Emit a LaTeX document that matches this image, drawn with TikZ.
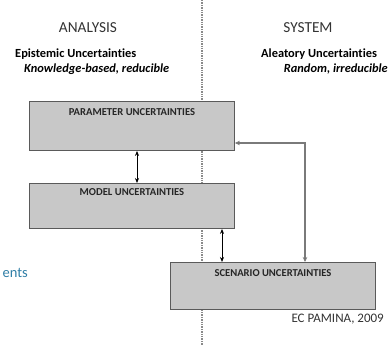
\documentclass[tikz,border=0pt]{standalone}
\usepackage{fontspec}
\setmainfont{Carlito}[RawFeature={-liga}]
\usetikzlibrary{arrows.meta}
\definecolor{boxfill}{HTML}{C8C8C8}
\definecolor{boxline}{HTML}{5A5A5A}
\definecolor{linkgray}{HTML}{7A7A7A}
\definecolor{divider}{HTML}{8A8A8A}
\definecolor{tealtext}{HTML}{2F7EA6}
\tikzset{
  ubox/.style={draw=boxline, line width=0.9pt, fill=boxfill, inner sep=0pt, anchor=north west},
  boxtitle/.style={anchor=north, font=\bfseries\fontsize{10.6}{12}\selectfont, text=black!85, inner sep=0pt},
  heading/.style={font=\fontsize{15.3}{17}\selectfont, text=black!80, inner sep=0pt},
  kind/.style={font=\bfseries\fontsize{12.4}{14}\selectfont, inner sep=0pt},
  note/.style={font=\bfseries\itshape\fontsize{12.4}{14}\selectfont, inner sep=0pt},
  link/.style={line width=0.7pt, {Stealth[length=5pt,width=4pt]}-{Stealth[length=5pt,width=4pt]}},
  feedback/.style={draw=linkgray, line width=1.2pt, {Stealth[length=5pt,width=4.5pt,fill=black]}-{Stealth[length=5pt,width=4.5pt,fill=black]}}
}
\begin{document}
\begin{tikzpicture}[x=1pt,y=-1pt]
  \useasboundingbox (0,0) rectangle (390,345);

  % divider between analysis and system side
  \coordinate (divtop) at (202,0);
  \coordinate (divbot) at (202,345);
  \draw[divider, line width=1.1pt, dash pattern=on 1.4pt off 1pt] (divtop) -- (divbot);

  % column headings
  \node[heading] (analysis) at (88,28) {ANALYSIS};
  \node[heading] (system) at (308,28) {SYSTEM};

  \node[kind, anchor=base west] (epi) at (15,57) {Epistemic Uncertainties};
  \node[note, anchor=base west] (epinote) at (24,72) {Knowledge-based, reducible};
  \node[kind, anchor=base west] (alea) at (261,57) {Aleatory Uncertainties};
  \node[note, anchor=base east] (aleanote) at (388,72) {Random, irreducible};

  % uncertainty boxes
  \node[ubox, minimum width=205pt, minimum height=49pt] (param) at (29,101) {};
  \node[ubox, minimum width=205pt, minimum height=45pt] (model) at (29,183) {};
  \node[ubox, minimum width=205pt, minimum height=47pt] (scen) at (170,262) {};

  \node[boxtitle] (paramtxt) at ([yshift=-7pt]param.north) {PARAMETER UNCERTAINTIES};
  \node[boxtitle] (modeltxt) at ([yshift=-5pt]model.north) {MODEL UNCERTAINTIES};
  \node[boxtitle] (scentxt) at ([yshift=-7pt]scen.north) {SCENARIO UNCERTAINTIES};

  % links between boxes
  \draw[link] (param.south -| 137,0) -- (model.north -| 137,0);
  \draw[link] (model.south -| 222,0) -- (scen.north -| 222,0);
  \coordinate (bend) at (305,143);
  \draw[feedback] (param.east |- bend) -- (bend) -- (scen.north -| bend);

  % credits and side text
  \node[font=\fontsize{14.5}{16}\selectfont, text=tealtext, anchor=base east, inner sep=0pt] (sidetxt) at (28,277) {ents};
  \node[font=\fontsize{13}{15}\selectfont, text=black!80, anchor=base east, inner sep=0pt] (credit) at (384,322) {EC PAMINA, 2009};
\end{tikzpicture}
\end{document}
